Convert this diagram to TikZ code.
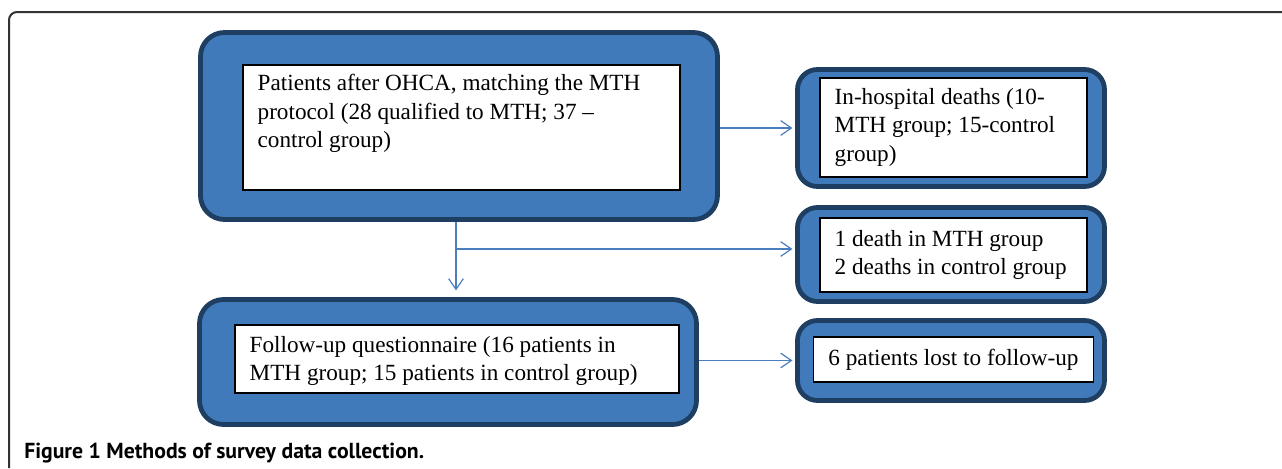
\documentclass[tikz,border=0pt]{standalone}
\usepackage{fontspec}
\setmainfont{Liberation Serif}
\newfontfamily\captionfont{PT Sans}
\usetikzlibrary{arrows.meta}

\definecolor{boxfill}{RGB}{65,122,187}
\definecolor{boxline}{RGB}{30,62,98}
\definecolor{linkblue}{RGB}{74,126,190}

% text set at the top of a white box: width, height, top gap, lines
\newcommand{\toptext}[4]{\parbox[c][#2][t]{#1}{\raggedright\vspace*{#3}#4}}

\begin{document}
\begin{tikzpicture}[x=0.75pt, y=-0.75pt,
    outerbox/.style={draw=boxline, fill=boxfill, line width=3.6pt, inner sep=0pt},
    innerbox/.style={draw=black, fill=white, line width=1pt, inner xsep=11pt, inner ysep=0pt,
        font=\fontsize{17.4}{21.4}\selectfont},
    link/.style={draw=linkblue, line width=0.9pt, -{Straight Barb[length=8pt, width=11pt]}}]
    \useasboundingbox (0,0) rectangle (1282,468);

    % Marco
    \draw[black!80, line width=1.5pt, rounded corners=6] (9,468) -- (9,12) -- (1282,12);

    % Cajas exteriores
    \node[outerbox, rounded corners=18pt, minimum width=387.75pt, minimum height=140.25pt] (patients) at (459,126) {};
    \node[outerbox, rounded corners=15pt, minimum width=230.25pt, minimum height=87.75pt] (hospital) at (951,128) {};
    \node[outerbox, rounded corners=15pt, minimum width=230.25pt, minimum height=70.5pt] (deaths) at (951,254.5) {};
    \node[outerbox, rounded corners=15pt, minimum width=230.25pt, minimum height=60pt] (lost) at (951,360.5) {};
    \node[outerbox, rounded corners=18pt, minimum width=372.75pt, minimum height=93.75pt] (followup) at (448,362) {};

    % Cajas blancas
    \node[innerbox] (patientstext) at (461.5,127.5)
        {\toptext{305.75pt}{93.75pt}{7pt}{Patients after OHCA, matching the MTH\\protocol (28 qualified to MTH; 37 --\\control group)}};
    \node[innerbox] (hospitaltext) at (953.5,127.5)
        {\toptext{178.25pt}{74.25pt}{7.5pt}{In-hospital deaths (10-\\MTH group; 15-control\\group)}};
    \node[innerbox] (deathstext) at (953.5,255)
        {\toptext{178.25pt}{55.5pt}{9pt}{1 death in MTH group\\2 deaths in control group}};
    \node[innerbox, minimum width=209.25pt, minimum height=33.75pt] (losttext) at (953.5,359.5)
        {6 patients lost to follow-up};
    \node[innerbox] (followuptext) at (457,359)
        {\toptext{311pt}{51pt}{8.5pt}{Follow-up questionnaire (16 patients in\\MTH group; 15 patients in control group)}};

    % Flechas
    \coordinate (split) at (456,249);
    \draw[link, shorten >=2pt] (patients.east |- hospital.west) -- (hospital.west);
    \draw[link, shorten >=5pt] (patients.south -| split) -- (followup.north -| split);
    \draw[link, shorten >=2pt] (split) -- (split -| deaths.west);
    \draw[link, shorten >=2pt] (lost.west -| followup.east) -- (lost.west);

    % Pie de figura
    \node[anchor=base west, inner sep=0pt, font=\captionfont\bfseries\fontsize{16.3}{19}\selectfont]
        (caption) at (24,458) {Figure 1 Methods of survey data collection.};
\end{tikzpicture}
\end{document}
